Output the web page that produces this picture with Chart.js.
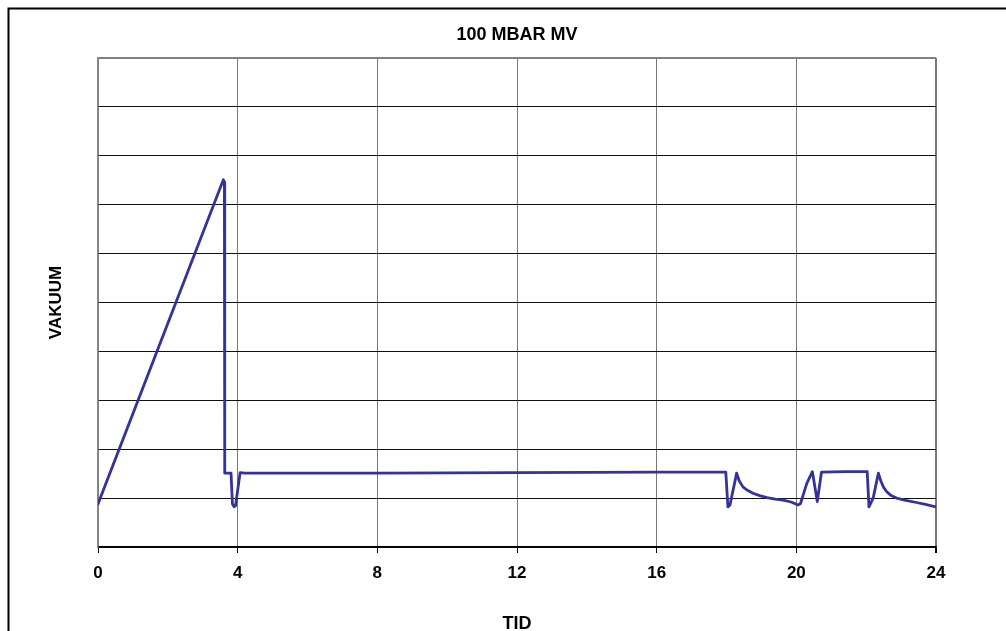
<!DOCTYPE html>
<html>
<head>
<meta charset="utf-8">
<title>100 MBAR MV</title>
<script src="https://cdn.jsdelivr.net/npm/chart.js@4"></script>
<style>
	body { margin: 0; background: #fff; }
	canvas { display: block; }
</style>
</head>
<body>
<canvas id="vac-chart" width="1006" height="631"></canvas>
<script>
// Time (hours) and vacuum readings
const hours = [0, 3.59, 3.62, 3.63, 3.81, 3.85, 3.9, 3.94, 4.07, 4.2, 8, 12, 16, 17.98, 18.04, 18.1, 18.29, 18.36, 18.47, 18.6, 18.76, 18.95, 19.16, 19.4, 19.62, 19.85, 20.05, 20.12, 20.3, 20.46, 20.6, 20.72, 21.4, 22.03, 22.08, 22.2, 22.35, 22.42, 22.5, 22.59, 22.7, 22.87, 23.1, 23.44, 23.7, 24];
const vacuum = [8.8, 75.1, 74.6, 15.1, 15.1, 8.8, 8.2, 8.5, 15.2, 15.1, 15.1, 15.2, 15.3, 15.3, 8.2, 8.6, 15.1, 13.6, 12.3, 11.6, 11.0, 10.5, 10.1, 9.8, 9.6, 9.2, 8.6, 8.9, 13.0, 15.4, 9.3, 15.3, 15.4, 15.4, 8.2, 10.0, 15.1, 13.5, 12.2, 11.3, 10.6, 10.0, 9.6, 9.1, 8.7, 8.2];
const xTicks = [0, 4, 8, 12, 16, 20, 24];

const chartTitle = '100 MBAR MV';
const xTitle = 'TID';
const yTitle = 'VAKUUM';

const fontFamily = '"Liberation Sans", Arial, sans-serif';

// outer frame of the sheet (only top and left edges are visible)
const framePlugin = {
	id: 'frame',
	beforeDraw(chart) {
		const ctx = chart.ctx;
		ctx.save();
		ctx.fillStyle = '#fff';
		ctx.fillRect(0, 0, chart.width, chart.height);
		ctx.strokeStyle = '#000';
		ctx.lineWidth = 2;
		ctx.beginPath();
		ctx.moveTo(chart.width, 8.5);
		ctx.lineTo(8.5, 8.5);
		ctx.lineTo(8.5, chart.height);
		ctx.stroke();
		ctx.restore();
	},
};

const ctx = document.getElementById('vac-chart').getContext('2d');
new Chart(ctx, {
	type: 'line',
	data: {
		datasets: [{
			label: chartTitle,
			data: hours.map((h, i) => ({ x: h, y: vacuum[i] })),
			borderColor: '#333399',
			borderWidth: 2.8,
			borderJoinStyle: 'round',
			borderCapStyle: 'round',
			pointRadius: 0,
			tension: 0,
			fill: false,
		}],
	},
	options: {
		responsive: false,
		animation: false,
		layout: {
			padding: { left: 0, right: 70, top: 0, bottom: 0 },
		},
		plugins: {
			legend: { display: false },
			tooltip: { enabled: false },
			title: {
				display: true,
				text: chartTitle,
				color: '#000',
				fullSize: false,
				font: { family: fontFamily, size: 18, weight: 'bold', lineHeight: 1.2 },
				padding: { top: 24, bottom: 12.4 },
			},
		},
		scales: {
			x: {
				type: 'linear',
				min: 0,
				max: 24,
				afterBuildTicks(scale) {
					scale.ticks = xTicks.map(v => ({ value: v }));
				},
				afterFit(scale) {
					scale.height = 84;
				},
				grid: {
					color: '#777',
					lineWidth: ctx => ctx.tick && ctx.tick.value === 24 ? 2 : 1,
					tickColor: '#000',
					tickLength: 6,
				},
				border: { color: '#000', width: 1.5 },
				ticks: {
					color: '#000',
					padding: 10,
					font: { family: fontFamily, size: 17, weight: 'bold' },
				},
				title: {
					display: true,
					text: xTitle,
					color: '#000',
					font: { family: fontFamily, size: 18, weight: 'bold', lineHeight: 0.8 },
					padding: { top: 0, bottom: 0 },
				},
			},
			y: {
				min: 0,
				max: 100,
				afterFit(scale) {
					scale.width = 98;
				},
				ticks: {
					display: false,
					stepSize: 10,
				},
				grid: {
					color: ctx => ctx.tick && ctx.tick.value === 100 ? '#808080' : '#111',
					lineWidth: ctx => ctx.tick && ctx.tick.value === 100 ? 2 : 1,
					drawTicks: false,
				},
				border: { color: '#888', width: 1.5 },
				title: {
					display: true,
					text: yTitle,
					color: '#000',
					font: { family: fontFamily, size: 17, weight: 'bold', lineHeight: 1.2 },
					padding: { top: 46, bottom: 0 },
				},
			},
		},
	},
	plugins: [framePlugin],
});
</script>
</body>
</html>
